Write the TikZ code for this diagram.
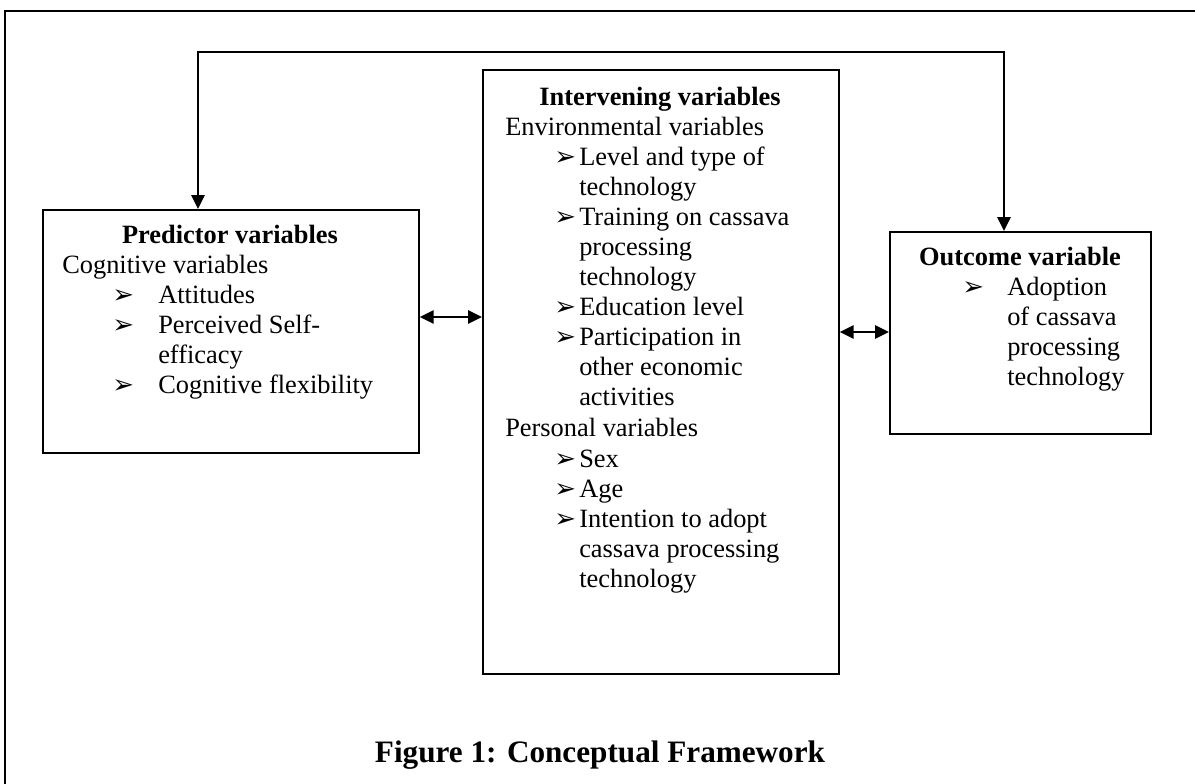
\documentclass[tikz,border=0pt]{standalone}
\usepackage{fontspec}
\setmainfont{Liberation Serif}
\newfontfamily\dejavu{DejaVu Sans}
\usetikzlibrary{arrows.meta}
\newcommand{\bodyfont}{\fontsize{19.8}{30}\selectfont}
\newcommand{\capfont}{\fontsize{23.4}{30}\selectfont\bfseries}
\newcommand{\bulfont}{\dejavu\fontsize{19.5}{22}\selectfont}
\begin{document}
\begin{tikzpicture}[x=0.75pt,y=-0.75pt,
  box/.style={draw, line width=1.3pt, inner sep=0, anchor=north west},
  txt/.style={anchor=base west, inner sep=0, font=\bodyfont},
  hd/.style={anchor=base, inner sep=0, font=\bodyfont\bfseries},
  bul/.style={anchor=base west, inner sep=0, font=\bulfont},
  arr/.style={line width=1.3pt, {Triangle[length=10.5pt,width=10pt]}-{Triangle[length=10.5pt,width=10pt]}},
  frame/.style={line width=1.8pt}]
\useasboundingbox (0,0) rectangle (1195,783);
% outer frame (extends beyond the picture)
\draw[frame] (5,790) -- (5,11) -- (1200,11);
% boxes
\node[box, minimum width=376*0.75pt, minimum height=243*0.75pt] (pred) at (42,209) {};
\node[box, minimum width=356*0.75pt, minimum height=604*0.75pt] (inter) at (482,69) {};
\node[box, minimum width=261*0.75pt, minimum height=202*0.75pt] (outc) at (889,231) {};
% predictor text
\node[hd] (p0) at (230,243) {Predictor variables};
\node[txt] (p1) at (62,273) {Cognitive variables};
\node[bul] (pb1) at (112,303) {➢};
\node[txt] (p2) at (158,303) {Attitudes};
\node[bul] (pb2) at (112,333) {➢};
\node[txt] (p3) at (158,333) {Perceived Self-};
\node[txt] (p4) at (158,363) {efficacy};
\node[bul] (pb3) at (112,393) {➢};
\node[txt] (p5) at (158,393) {Cognitive flexibility};
% intervening text
\node[hd] (i0) at (660,105) {Intervening variables};
\node[txt] (i1) at (505,135) {Environmental variables};
\node[bul] (ib1) at (554,165) {➢};
\node[txt] (i2) at (579,165) {Level and type of};
\node[txt] (i3) at (579,195) {technology};
\node[bul] (ib2) at (554,225) {➢};
\node[txt] (i4) at (579,225) {Training on cassava};
\node[txt] (i5) at (579,255) {processing};
\node[txt] (i6) at (579,285) {technology};
\node[bul] (ib3) at (554,315) {➢};
\node[txt] (i7) at (579,315) {Education level};
\node[bul] (ib4) at (554,345) {➢};
\node[txt] (i8) at (579,345) {Participation in};
\node[txt] (i9) at (579,375) {other economic};
\node[txt] (i10) at (579,405) {activities};
\node[txt] (i11) at (505,436) {Personal variables};
\node[bul] (ib5) at (554,467) {➢};
\node[txt] (i12) at (579,467) {Sex};
\node[bul] (ib6) at (554,497) {➢};
\node[txt] (i13) at (579,497) {Age};
\node[bul] (ib7) at (554,527) {➢};
\node[txt] (i14) at (579,527) {Intention to adopt};
\node[txt] (i15) at (579,557) {cassava processing};
\node[txt] (i16) at (579,587) {technology};
% outcome text
\node[hd] (o0) at (1020,265) {Outcome variable};
\node[bul] (ob1) at (962,295) {➢};
\node[txt] (o1) at (1007,295) {Adoption};
\node[txt] (o2) at (1007,325) {of cassava};
\node[txt] (o3) at (1007,355) {processing};
\node[txt] (o4) at (1007,385) {technology};
% caption
\node[anchor=base, inner sep=0, font=\capfont] (cap) at (600,762) {Figure 1: Conceptual Framework};
% connectors
\coordinate (ya) at (0,317);
\coordinate (yb) at (0,332);
\draw[arr] (pred.east |- ya) -- (inter.west |- ya);
\draw[arr] (inter.east |- yb) -- (outc.west |- yb);
\coordinate (tl) at (198,52);
\coordinate (tr) at (1004,52);
\draw[arr] (pred.north -| tl) -- (tl) -- (tr) -- (outc.north -| tr);
\end{tikzpicture}
\end{document}
